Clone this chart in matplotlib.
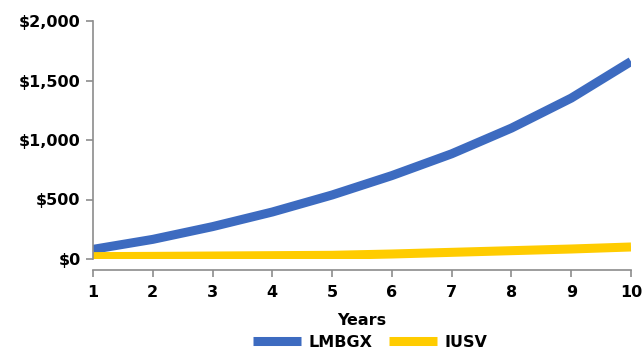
import matplotlib
matplotlib.use("Agg")
import matplotlib.pyplot as plt
from matplotlib.ticker import FuncFormatter

# values
years = [1, 2, 3, 4, 5, 6, 7, 8, 9, 10]
lmbgx = [81, 165, 272, 395, 538, 701, 884, 1100, 1352, 1660]
iusv = [20, 22, 25, 28, 31, 42, 56, 70, 84, 101]
y_ticks = [0, 500, 1000, 1500, 2000]

blue = "#3D6BC0"
yellow = "#FFCC00"
axis_grey = "#8C8C8C"

plt.rcParams["font.family"] = ["DejaVu Sans"]

fig = plt.figure(figsize=(6.44, 3.56), dpi=100)
ax = fig.add_axes([93 / 644, 1 - 259 / 356, (631 - 93) / 644, (259 - 21) / 356])

ax.plot(years, lmbgx, color=blue, lw=6.5, solid_capstyle="butt", label="LMBGX")
ax.plot(years, iusv, color=yellow, lw=6.5, solid_capstyle="butt", label="IUSV")

ax.set_xlim(1, 10)
ax.set_ylim(0, 2000)
ax.set_xticks(years)
ax.set_yticks(y_ticks)
ax.yaxis.set_major_formatter(FuncFormatter(lambda v, p: f"${v:,.0f}"))

for side in ["top", "right"]:
    ax.spines[side].set_visible(False)
ax.spines["bottom"].set_position(("outward", 8))
for side in ["left", "bottom"]:
    ax.spines[side].set_color(axis_grey)
    ax.spines[side].set_linewidth(1.2)

ax.tick_params(axis="both", colors=axis_grey, length=5, width=1.2,
               labelcolor="black", labelsize=11.5)
ax.tick_params(axis="y", pad=4)
ax.tick_params(axis="x", pad=6)
for lbl in ax.get_xticklabels() + ax.get_yticklabels():
    lbl.set_fontweight("bold")

ax.set_xlabel("Years", fontsize=11.5, fontweight="bold", labelpad=9)

handles, labels = ax.get_legend_handles_labels()
leg = fig.legend(handles, labels, loc="lower center", bbox_to_anchor=(0.575, -0.01),
                 ncol=2, frameon=False, prop={"size": 11.5, "weight": "bold"},
                 handlelength=3.0, columnspacing=1.0, handletextpad=0.5,
                 borderpad=0.1)
for line in leg.get_lines():
    line.set_linewidth(6.5)

fig.savefig("out.png", dpi=100)
